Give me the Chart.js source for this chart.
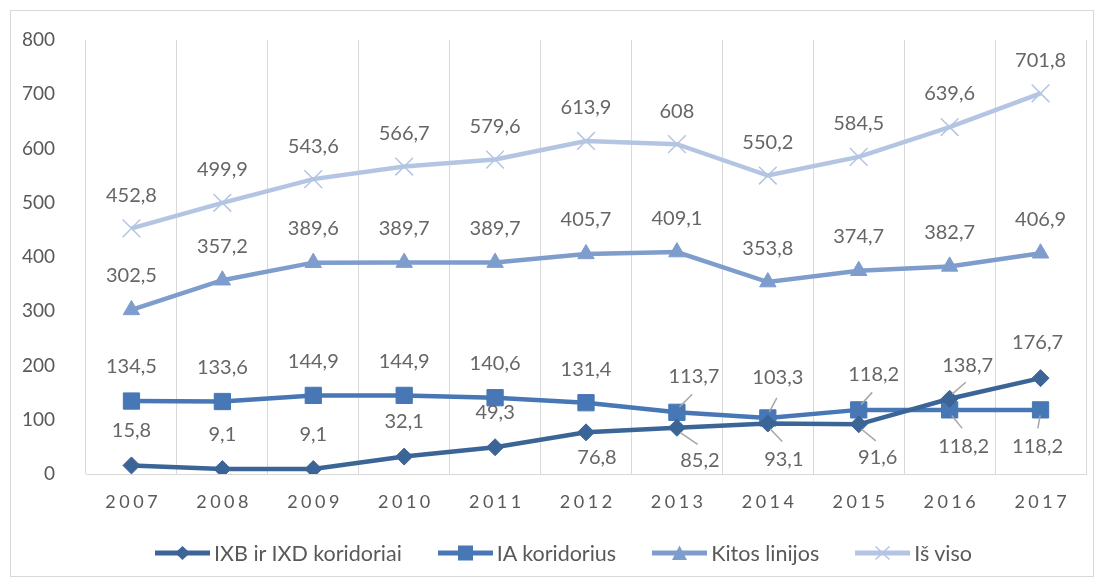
<!DOCTYPE html>
<html lang="lt">
<head>
<meta charset="UTF-8">
<title>Krovinių srautai 2007–2017</title>
<script src="https://cdn.jsdelivr.net/npm/chart.js"></script>
<style>
    html, body {
        margin: 0;
        padding: 0;
        background: #fff;
    }
    #wrap {
        position: relative;
        width: 1104px;
        height: 586px;
    }
    .frame {
        position: absolute;
        left: 10px;
        top: 10px;
        width: 1082px;
        height: 565px;
        border: 1px solid #d9d9d9;
        pointer-events: none;
    }
    #legend {
        position: absolute;
        left: 155px;
        top: 541px;
        height: 24px;
        display: flex;
        align-items: center;
        font-family: Lato, sans-serif;
        font-size: 21.5px;
        color: #595959;
    }
    #legend .item {
        display: flex;
        align-items: center;
        margin-right: 36px;
    }
    #legend svg {
        margin-right: 4px;
    }
</style>
</head>
<body>
<div id="wrap">
    <canvas id="lineChart" width="1104" height="586"></canvas>
    <div class="frame"></div>
    <div id="legend"></div>
</div>
<script>
const years = ['2007', '2008', '2009', '2010', '2011', '2012', '2013', '2014', '2015', '2016', '2017'];
const ixbIxd = [15.8, 9.1, 9.1, 32.1, 49.3, 76.8, 85.2, 93.1, 91.6, 138.7, 176.7];
const iaKoridorius = [134.5, 133.6, 144.9, 144.9, 140.6, 131.4, 113.7, 103.3, 118.2, 118.2, 118.2];
const kitosLinijos = [302.5, 357.2, 389.6, 389.7, 389.7, 405.7, 409.1, 353.8, 374.7, 382.7, 406.9];
const isViso = [452.8, 499.9, 543.6, 566.7, 579.6, 613.9, 608, 550.2, 584.5, 639.6, 701.8];
const seriesNames = ['IXB ir IXD koridoriai', 'IA koridorius', 'Kitos linijos', 'Iš viso'];
const yMin = 0, yMax = 800, yStep = 100;

const colors = ['#3b6597', '#4877b5', '#7e9dcd', '#b4c5e3'];
const markers = ['rectRot', 'rect', 'triangle', 'crossRot'];
const markerRadius = [8.5, 11.5, 9.5, 12.5];

// where each value label sits relative to its point (dx, dy), and which get a leader line
const labelOffsets = [
    [[0, -35], [0, -35], [0, -35], [0, -35], [0, -35], [11, 25], [23, 33], [16, 36], [19, 33], [18, -33], [-3, -36]],
    [[0, -34], [0, -34], [0, -34], [0, -34], [0, -34], [0, -33], [17, -36], [10, -40], [15, -35], [14, 37], [-3, 37]],
    [[0, -34], [0, -34], [0, -34], [0, -34], [0, -34], [0, -34], [0, -34], [0, -34], [0, -34], [0, -34], [0, -34]],
    [[0, -33], [0, -33], [0, -33], [0, -33], [0, -33], [0, -33], [0, -33], [0, -33], [0, -33], [0, -33], [0, -33]]
];
const leaders = [
    [0, 0, 0, 0, 0, 0, 1, 1, 1, 1, 0],
    [0, 0, 0, 0, 0, 0, 1, 1, 1, 1, 1],
    [0, 0, 0, 0, 0, 0, 0, 0, 0, 0, 0],
    [0, 0, 0, 0, 0, 0, 0, 0, 0, 0, 0]
];

const valueLabels = {
    id: 'valueLabels',
    afterDatasetsDraw(chart) {
        const ctx = chart.ctx;
        ctx.save();
        chart.data.datasets.forEach((ds, i) => {
            const meta = chart.getDatasetMeta(i);
            meta.data.forEach((pt, j) => {
                const [dx, dy] = labelOffsets[i][j];
                if (leaders[i][j]) {
                    ctx.strokeStyle = '#a6a6a6';
                    ctx.lineWidth = 1.5;
                    ctx.beginPath();
                    ctx.moveTo(pt.x + dx * 0.15, pt.y + dy * 0.15);
                    ctx.lineTo(pt.x + dx * 0.9, pt.y + dy * 0.5);
                    ctx.stroke();
                }
            });
        });
        ctx.font = '20px Lato';
        ctx.fillStyle = '#666666';
        ctx.textAlign = 'center';
        ctx.textBaseline = 'middle';
        chart.data.datasets.forEach((ds, i) => {
            const meta = chart.getDatasetMeta(i);
            meta.data.forEach((pt, j) => {
                const [dx, dy] = labelOffsets[i][j];
                const txt = String(ds.data[j]).replace('.', ',');
                ctx.fillText(txt, pt.x + dx, pt.y + dy);
            });
        });
        ctx.restore();
    },
    afterDraw(chart) {
        // year labels, letter-spaced like the original
        const ctx = chart.ctx;
        const xs = chart.scales.x;
        ctx.save();
        ctx.font = '18px Lato';
        ctx.letterSpacing = '3.5px';
        ctx.fillStyle = '#595959';
        ctx.textAlign = 'center';
        ctx.textBaseline = 'middle';
        chart.data.labels.forEach((lab, i) => {
            ctx.fillText(lab, xs.getPixelForValue(i) + 1.75, 502);
        });
        ctx.restore();
    }
};

const series = [ixbIxd, iaKoridorius, kitosLinijos, isViso];

const chart = new Chart(document.getElementById('lineChart'), {
    type: 'line',
    data: {
        labels: years,
        datasets: series.map((d, i) => ({
            label: seriesNames[i],
            data: d,
            borderColor: colors[i],
            backgroundColor: colors[i],
            borderWidth: 4.5,
            pointStyle: markers[i],
            pointRadius: markerRadius[i],
            pointBorderWidth: i === 3 ? 1.5 : 1,
            pointBorderColor: colors[i],
            pointBackgroundColor: colors[i],
            tension: 0,
            fill: false
        }))
    },
    options: {
        responsive: false,
        animation: false,
        devicePixelRatio: 1,
        layout: { padding: { left: 0, right: 18, top: 40, bottom: 0 } },
        plugins: {
            legend: { display: false },
            tooltip: { enabled: false }
        },
        scales: {
            x: {
                offset: true,
                grid: { offset: true, color: '#d9d9d9', lineWidth: 1, drawTicks: false },
                border: { color: '#d9d9d9', width: 1 },
                ticks: { display: false },
                afterFit(scale) { scale.height = 112; }
            },
            y: {
                min: yMin,
                max: yMax,
                grid: { display: false },
                border: { display: false },
                ticks: {
                    stepSize: yStep,
                    padding: 23,
                    color: '#595959',
                    font: { family: 'Lato', size: 19 }
                },
                afterFit(scale) { scale.width = 86; }
            }
        }
    },
    plugins: [valueLabels]
});

// HTML legend: line with marker, then the series name
function markerSvg(i) {
    const c = colors[i];
    let m = '';
    if (markers[i] === 'rectRot') m = `<polygon points="27.5,3 35,10 27.5,17 20,10" fill="${c}"/>`;
    if (markers[i] === 'rect') m = `<rect x="20" y="2.5" width="15" height="15" fill="${c}"/>`;
    if (markers[i] === 'triangle') m = `<polygon points="27.5,2.5 35,17 20,17" fill="${c}"/>`;
    if (markers[i] === 'crossRot') m = `<path d="M20.5 3.5 L34.5 16.5 M34.5 3.5 L20.5 16.5" stroke="${c}" stroke-width="1.5"/>`;
    return `<svg width="55" height="20" viewBox="0 0 55 20"><line x1="0" y1="10" x2="55" y2="10" stroke="${c}" stroke-width="5"/>${m}</svg>`;
}
const legendEl = document.getElementById('legend');
chart.data.datasets.forEach((ds, i) => {
    const item = document.createElement('div');
    item.className = 'item';
    item.innerHTML = markerSvg(i);
    const span = document.createElement('span');
    span.textContent = ds.label;
    item.appendChild(span);
    legendEl.appendChild(item);
});
</script>
</body>
</html>
